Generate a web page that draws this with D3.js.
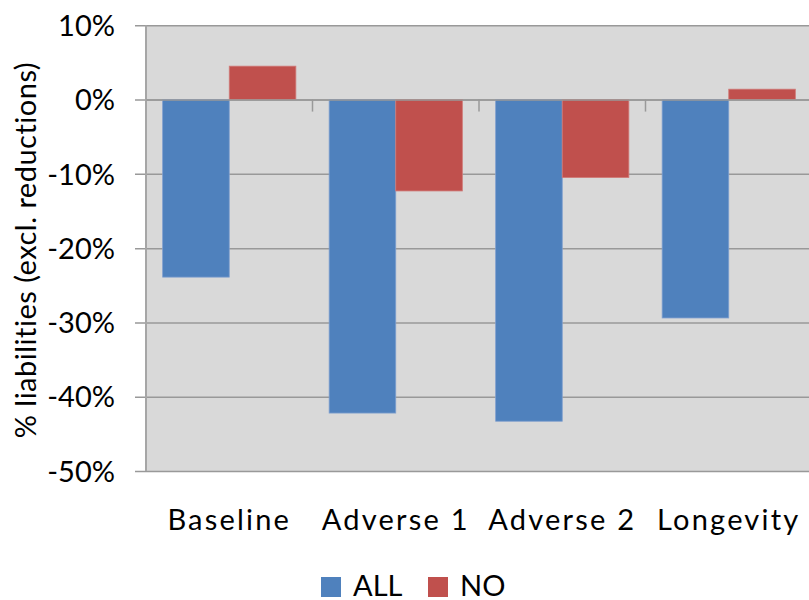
<!DOCTYPE html>
<html>
<head>
<meta charset="utf-8">
<script src="https://cdn.jsdelivr.net/npm/d3@7"></script>
<style>
  html, body { margin: 0; padding: 0; background: #fff; }
  svg { display: block; }
  text { font-family: Lato, "Open Sans", sans-serif; fill: #000; }
</style>
</head>
<body>
<svg id="chart" width="809" height="600"></svg>
<script>
// Change in liabilities (excluding reductions) by scenario
const categories = ["Baseline", "Adverse 1", "Adverse 2", "Longevity"];
const seriesNames = ["ALL", "NO"];
const allValues = [-0.239, -0.422, -0.433, -0.294];
const noValues = [0.045, -0.123, -0.105, 0.014];
const yTicks = [0.1, 0, -0.1, -0.2, -0.3, -0.4, -0.5];
const colors = ["#4f81bd", "#c0504d"];
const yTitle = "% liabilities (excl. reductions)";

const rows = categories.map((c, i) => ({ category: c, ALL: allValues[i], NO: noValues[i] }));

const svg = d3.select("#chart");
const plot = { left: 146, right: 812, top: 25.3, bottom: 471 };

const x = d3.scaleBand().domain(categories).range([plot.left, plot.right]).padding(0);
const xInner = d3.scaleBand().domain(seriesNames).range([0, x.bandwidth()])
  .paddingInner(0).paddingOuter(0.25);
const y = d3.scaleLinear().domain([-0.5, 0.1]).range([plot.bottom, plot.top]);
const color = d3.scaleOrdinal().domain(seriesNames).range(colors);

// percent labels with a plain hyphen for negatives
const pct = v => d3.format(".0%")(v).replace("\u2212", "-");

// plot area background
svg.append("rect")
  .attr("x", plot.left).attr("y", plot.top)
  .attr("width", plot.right - plot.left).attr("height", plot.bottom - plot.top)
  .attr("fill", "#d9d9d9");

// horizontal gridlines plus left tick marks
const yAxis = d3.axisLeft(y).tickValues(yTicks)
  .tickFormat(pct)
  .tickSizeInner(-(plot.right - plot.left + 11)).tickSizeOuter(0).tickPadding(20);
const gy = svg.append("g").attr("transform", `translate(${plot.left - 11},0)`).call(yAxis);
gy.select(".domain").remove();
gy.selectAll(".tick line").attr("stroke", "#999").attr("stroke-width", 1.5);
gy.selectAll(".tick text")
  .attr("font-size", 29).attr("dy", "0.35em")
  .attr("x", 115 - (plot.left - 11));

// left axis line
svg.append("line")
  .attr("x1", plot.left).attr("x2", plot.left)
  .attr("y1", plot.top).attr("y2", plot.bottom)
  .attr("stroke", "#a6a6a6").attr("stroke-width", 2);

// bars
const groups = svg.append("g").selectAll("g").data(rows).join("g")
  .attr("transform", d => `translate(${x(d.category)},0)`);
groups.selectAll("rect")
  .data(d => seriesNames.map(s => ({ key: s, value: d[s] })))
  .join("rect")
  .attr("x", d => xInner(d.key))
  .attr("width", xInner.bandwidth())
  .attr("y", d => y(Math.max(0, d.value)))
  .attr("height", d => Math.abs(y(d.value) - y(0)))
  .attr("fill", d => color(d.key))
  .attr("stroke", d => d.key === "ALL" ? "#7f9fcf" : "#d07a78")
  .attr("stroke-width", 0.8);

// category axis along zero line
const xAxis = d3.axisBottom(x).tickSize(0).tickFormat("");
const gx = svg.append("g").attr("transform", `translate(0,${y(0)})`).call(xAxis);
gx.select(".domain").attr("stroke", "#999").attr("stroke-width", 1.5);
gx.selectAll(".cat-tick")
  .data(categories.slice(1))
  .join("line").attr("class", "cat-tick")
  .attr("x1", d => x(d)).attr("x2", d => x(d))
  .attr("y1", 0).attr("y2", 12)
  .attr("stroke", "#999").attr("stroke-width", 1.5);

// category labels below plot
svg.append("g").selectAll("text").data(categories).join("text")
  .attr("x", d => x(d) + x.bandwidth() / 2)
  .attr("y", 530)
  .attr("text-anchor", "middle")
  .attr("font-size", 29)
  .attr("letter-spacing", 2.2)
  .text(d => d);

// y axis title
svg.append("text")
  .attr("transform", `translate(36,${(plot.top + plot.bottom) / 2 + 2}) rotate(-90)`)
  .attr("text-anchor", "middle")
  .attr("font-size", 29)
  .attr("letter-spacing", 0.5)
  .text(yTitle);

// legend
const legendX = [321, 428];
const legend = svg.append("g").selectAll("g").data(seriesNames).join("g")
  .attr("transform", (d, i) => `translate(${legendX[i]},577)`);
legend.append("rect").attr("width", 20).attr("height", 20)
  .attr("fill", d => color(d));
legend.append("text").attr("x", 32).attr("y", 19)
  .attr("font-size", 29).text(d => d);
</script>
</body>
</html>
